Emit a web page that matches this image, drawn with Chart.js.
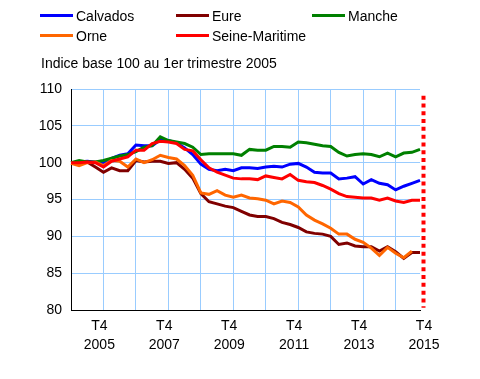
<!DOCTYPE html>
<html>
<head>
<meta charset="utf-8">
<script src="https://cdn.jsdelivr.net/npm/chart.js@4/dist/chart.umd.min.js"></script>
<style>
  html, body { margin: 0; padding: 0; background: #fff; }
  #wrap { position: relative; width: 480px; height: 379px; font-family: "Liberation Sans", Arial, sans-serif; font-size: 14px; color: #000; }
  #c { position: absolute; left: 0; top: 0; }
  .lg { position: absolute; height: 20px; line-height: 20px; white-space: nowrap; }
  .lg i { position: absolute; left: 0; top: 8px; width: 33px; height: 3px; }
  .lg span { position: absolute; left: 36px; top: 0; }
  #sub { position: absolute; left: 41px; top: 53px; line-height: 20px; white-space: nowrap; }
</style>
</head>
<body>
<div id="wrap">
  <canvas id="c" width="480" height="379"></canvas>
  <div id="legend"></div>
  <div id="sub">Indice base 100 au 1er trimestre 2005</div>
</div>
<script>
// ---- Data ----
const years = [2005,2006,2007,2008,2009,2010,2011,2012,2013,2014,2015];
const quarters = ['T1','T2','T3','T4'];
const categories = [];
years.forEach(y => quarters.forEach(q => categories.push(q + ' ' + y)));

const seriesNames = ['Calvados', 'Eure', 'Manche', 'Orne', 'Seine-Maritime'];
const seriesColors = ['#0000ff', '#800000', '#008000', '#ff6600', '#ff0000'];

const calvados = [100.0, 100.1, 100.2, 100.1, 100.0, 100.6, 101.0, 101.2, 102.4, 102.3, 102.3, 103.1, 103.0, 102.7, 102.0, 101.1,
  99.8, 99.1, 98.9, 99.1, 98.9, 99.3, 99.3, 99.2, 99.4, 99.5, 99.4, 99.8, 99.9, 99.4, 98.7, 98.6,
  98.6, 97.8, 97.9, 98.1, 97.1, 97.7, 97.2, 97.0, 96.3, 96.8, 97.2, 97.6];
const eure = [100.0, 100.0, 100.1, 99.4, 98.7, 99.3, 98.9, 98.9, 100.3, 100.1, 100.2, 100.2, 99.9, 100.0, 99.1, 97.9,
  95.8, 94.7, 94.4, 94.1, 93.9, 93.4, 92.9, 92.7, 92.7, 92.4, 91.9, 91.6, 91.2, 90.6, 90.4, 90.3,
  90.0, 88.9, 89.1, 88.7, 88.6, 88.6, 88.0, 88.6, 87.9, 87.0, 87.8, 87.8];
const manche = [100.0, 100.3, 100.1, 100.1, 100.3, 100.6, 100.9, 101.1, 101.5, 102.1, 102.3, 103.5, 103.0, 102.8, 102.6, 102.1,
  101.1, 101.2, 101.2, 101.2, 101.2, 101.0, 101.8, 101.7, 101.7, 102.2, 102.2, 102.1, 102.8, 102.7, 102.5, 102.3,
  102.2, 101.4, 100.9, 101.1, 101.2, 101.1, 100.8, 101.3, 100.8, 101.3, 101.4, 101.8];
const orne = [99.9, 99.6, 100.0, 100.1, 99.6, 100.3, 100.2, 99.4, 100.5, 100.0, 100.4, 101.0, 100.7, 100.5, 99.6, 98.3,
  95.9, 95.7, 96.2, 95.6, 95.3, 95.6, 95.2, 95.1, 94.9, 94.4, 94.8, 94.6, 94.0, 92.9, 92.2, 91.7,
  91.1, 90.3, 90.3, 89.6, 89.2, 88.4, 87.4, 88.5, 87.7, 87.1, 88.0, null];
const seineMaritime = [100.0, 100.0, 100.1, 100.0, 99.4, 100.2, 100.5, 100.8, 101.7, 101.7, 102.6, 102.9, 102.8, 102.6, 101.8, 101.6,
  100.4, 99.3, 98.7, 98.3, 97.9, 97.8, 97.8, 97.7, 98.2, 98.0, 97.8, 98.4, 97.6, 97.4, 97.3, 96.9,
  96.4, 95.8, 95.4, 95.3, 95.2, 95.2, 94.9, 95.2, 94.8, 94.6, 94.9, 94.9];
const seriesData = [calvados, eure, manche, orne, seineMaritime];

const yTicks = [80, 85, 90, 95, 100, 105, 110];

// ---- HTML legend ----
const legendPos = [[40, 6], [176, 6], [312, 6], [40, 26], [176, 26]];
const lg = document.getElementById('legend');
seriesNames.forEach((n, k) => {
  const d = document.createElement('div');
  d.className = 'lg';
  d.style.left = legendPos[k][0] + 'px';
  d.style.top = legendPos[k][1] + 'px';
  d.innerHTML = '<i style="background:' + seriesColors[k] + '"></i><span>' + n + '</span>';
  lg.appendChild(d);
});

// ---- dotted red marker at the end ----
const endMarker = {
  id: 'endMarker',
  afterDatasetsDraw(chart) {
    const { ctx, chartArea, scales } = chart;
    const x = chartArea.right + 3.5;
    ctx.save();
    ctx.strokeStyle = '#ff0000';
    ctx.lineWidth = 4;
    ctx.setLineDash([4, 3.8]);
    ctx.beginPath();
    ctx.moveTo(x, scales.y.getPixelForValue(109.1));
    ctx.lineTo(x, scales.y.getPixelForValue(80.3));
    ctx.stroke();
    ctx.restore();
  }
};

new Chart(document.getElementById('c'), {
  type: 'line',
  data: {
    labels: categories,
    datasets: seriesNames.map((n, k) => ({
      label: n,
      data: seriesData[k],
      borderColor: seriesColors[k],
      backgroundColor: seriesColors[k],
      borderWidth: 3,
      pointRadius: 0,
      tension: 0,
      fill: false,
      order: 4 - k
    }))
  },
  options: {
    responsive: false,
    animation: false,
    layout: { padding: { left: 0, top: 89, right: 60, bottom: 0 } },
    plugins: { legend: { display: false }, tooltip: { enabled: false } },
    scales: {
      x: {
        type: 'category',
        offset: false,
        afterFit(s) { s.height = 69; },
        grid: {
          drawTicks: false,
          color: (c) => (c.index > 0 && c.index % 4 === 0) ? '#99ccff' : 'rgba(0,0,0,0)',
          lineWidth: 1
        },
        border: { display: true, color: '#000', width: 1 },
        ticks: {
          autoSkip: false,
          maxRotation: 0,
          minRotation: 0,
          padding: 7,
          labelOffset: 4,
          color: '#000',
          font: { family: '"Liberation Sans", Arial, sans-serif', size: 14, lineHeight: 1.36 },
          callback(v, i) {
            const parts = categories[i].split(' ');
            const yr = parseInt(parts[1], 10);
            return (parts[0] === 'T4' && yr % 2 === 1) ? [parts[0], parts[1]] : '';
          }
        }
      },
      y: {
        min: yTicks[0],
        max: yTicks[yTicks.length - 1],
        afterFit(s) { s.width = 71; },
        afterBuildTicks(s) { s.ticks = yTicks.map(v => ({ value: v })); },
        grid: { drawTicks: false, color: '#99ccff', lineWidth: 1 },
        border: { display: true, color: '#000', width: 1 },
        ticks: {
          padding: 9,
          color: '#000',
          font: { family: '"Liberation Sans", Arial, sans-serif', size: 14 }
        }
      }
    }
  },
  plugins: [endMarker]
});
</script>
</body>
</html>
